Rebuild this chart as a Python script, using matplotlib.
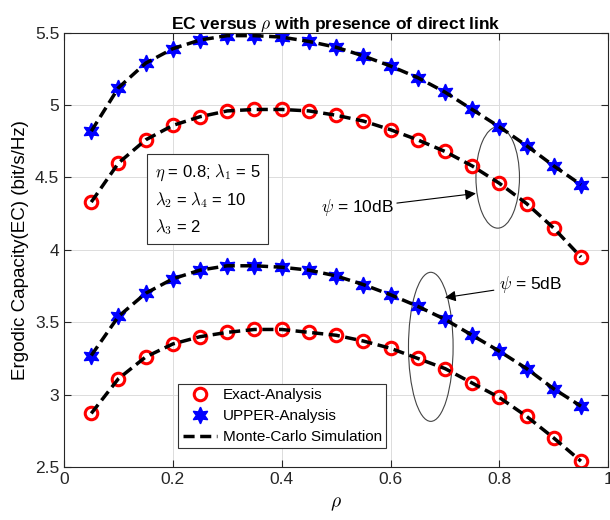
import numpy as np
import matplotlib
matplotlib.use('Agg')
import matplotlib.pyplot as plt
from matplotlib.patches import Ellipse

plt.rcParams['font.family'] = ['Liberation Sans', 'DejaVu Sans']
plt.rcParams['mathtext.fontset'] = 'cm'

# rho values
rho = [0.05, 0.10, 0.15, 0.20, 0.25, 0.30, 0.35, 0.40, 0.45, 0.50,
       0.55, 0.60, 0.65, 0.70, 0.75, 0.80, 0.85, 0.90, 0.95]

# psi = 10dB
upper_10 = [4.82, 5.12, 5.29, 5.39, 5.45, 5.48, 5.48, 5.47, 5.44, 5.40,
            5.34, 5.27, 5.19, 5.09, 4.97, 4.85, 4.72, 4.58, 4.45]
exact_10 = [4.33, 4.60, 4.76, 4.86, 4.92, 4.96, 4.97, 4.97, 4.96, 4.93,
            4.89, 4.83, 4.76, 4.68, 4.58, 4.46, 4.32, 4.15, 3.95]

# psi = 5dB
upper_5 = [3.27, 3.54, 3.70, 3.80, 3.86, 3.89, 3.89, 3.88, 3.86, 3.82,
           3.76, 3.69, 3.61, 3.52, 3.41, 3.30, 3.18, 3.04, 2.92]
exact_5 = [2.87, 3.11, 3.26, 3.35, 3.40, 3.43, 3.45, 3.45, 3.43, 3.41,
           3.37, 3.32, 3.25, 3.18, 3.08, 2.98, 2.85, 2.70, 2.54]

xticks = [0, 0.2, 0.4, 0.6, 0.8, 1]
yticks = [2.5, 3, 3.5, 4, 4.5, 5, 5.5]

fig = plt.figure(figsize=(6.1, 5.2), dpi=100)
ax = fig.add_axes([0.105, 0.102, 0.892, 0.835])

star = (6, 1, 0)
dash = (0, (3.2, 1.6))

for ex, up in [(exact_10, upper_10), (exact_5, upper_5)]:
    ax.plot(rho, ex, linestyle='none', marker='o', markersize=9,
            markerfacecolor='none', markeredgecolor='red', markeredgewidth=2.2)
    ax.plot(rho, up, linestyle='none', marker=star, markersize=12,
            color='blue')
    ax.plot(rho, ex, color='black', linestyle=dash, linewidth=2.5)
    ax.plot(rho, up, color='black', linestyle=dash, linewidth=2.5)

# legend handles
h1, = ax.plot([], [], linestyle='none', marker='o', markersize=9,
              markerfacecolor='none', markeredgecolor='red', markeredgewidth=2.2)
h2, = ax.plot([], [], linestyle='none', marker=star, markersize=12, color='blue')
h3, = ax.plot([], [], color='black', linestyle=dash, linewidth=2.5)
leg = ax.legend([h1, h2, h3], ['Exact-Analysis', 'UPPER-Analysis', 'Monte-Carlo Simulation'],
                loc='lower left', bbox_to_anchor=(0.196, 0.025), fontsize=11,
                frameon=True, fancybox=False, edgecolor='#333333', framealpha=1,
                borderpad=0.3, labelspacing=0.45, handlelength=2.2, handletextpad=0.4)
leg.get_frame().set_linewidth(0.8)

# ellipses
ax.add_patch(Ellipse((0.797, 4.5), 0.08, 0.70, fill=False, edgecolor='#444444', linewidth=0.8))
ax.add_patch(Ellipse((0.674, 3.33), 0.082, 1.03, fill=False, edgecolor='#444444', linewidth=0.8))

ax.annotate(r'$\psi$ = 10dB', xy=(0.757, 4.39), xytext=(0.473, 4.29),
            fontsize=12.5, va='center', ha='left',
            arrowprops=dict(arrowstyle='-|>', color='black', lw=0.8, mutation_scale=16,
                            shrinkA=0, shrinkB=0))
ax.annotate(r'$\psi$ = 5dB', xy=(0.70, 3.67), xytext=(0.80, 3.76),
            fontsize=12.5, va='center', ha='left',
            arrowprops=dict(arrowstyle='-|>', color='black', lw=0.8, mutation_scale=16,
                            shrinkA=2, shrinkB=0))

ax.text(0.167, 4.60,
        r'$\eta$ = 0.8; $\lambda_1$ = 5' + '\n' + r'$\lambda_2$ = $\lambda_4$ = 10' + '\n' + r'$\lambda_3$ = 2',
        fontsize=12, va='top', ha='left', linespacing=1.45,
        bbox=dict(boxstyle='square,pad=0.45', facecolor='white', edgecolor='#333333', linewidth=0.8))

ax.set_xlim(0, 1)
ax.set_ylim(2.5, 5.5)
ax.set_xticks(xticks)
ax.set_xticklabels(['0', '0.2', '0.4', '0.6', '0.8', '1'])
ax.set_yticks(yticks)
ax.set_yticklabels(['2.5', '3', '3.5', '4', '4.5', '5', '5.5'])
ax.tick_params(direction='in', top=True, right=True, labelsize=12.5, length=5, colors='#262626')
ax.grid(True, color='#dcdcdc', linewidth=0.7)
ax.set_axisbelow(True)
for s in ax.spines.values():
    s.set_color('#262626')
    s.set_linewidth(0.8)

ax.set_xlabel(r'$\rho$', fontsize=14, labelpad=6)
ax.set_ylabel('Ergodic Capacity(EC) (bit/s/Hz)', fontsize=13.5, labelpad=4)
ax.set_title(r'EC versus $\rho$ with presence of direct link', fontsize=12.5, fontweight='bold', pad=3)

fig.savefig('out.png', dpi=100)
